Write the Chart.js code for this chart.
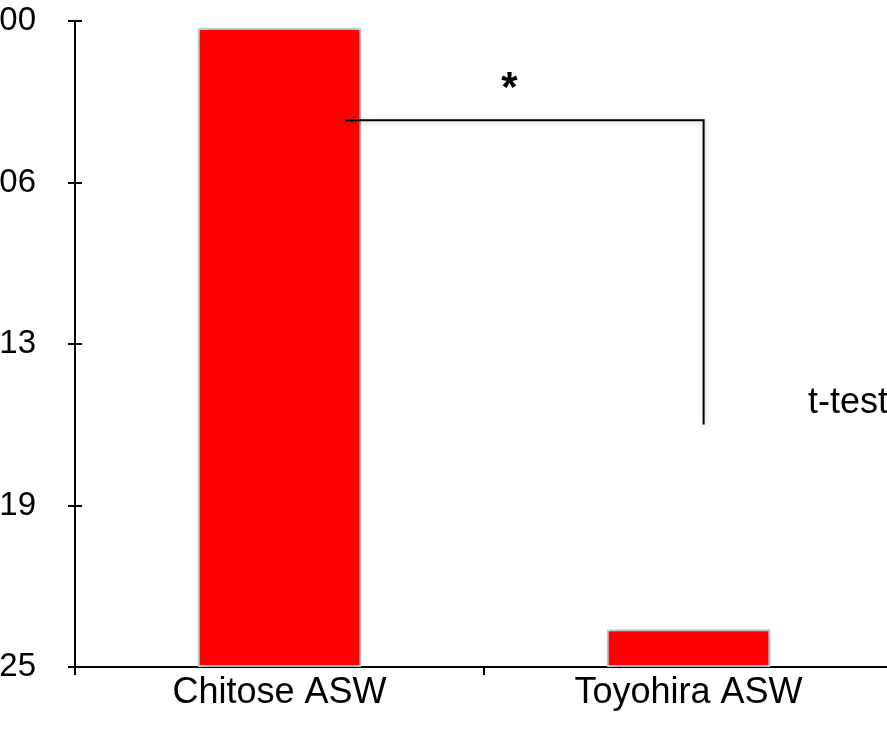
<!DOCTYPE html>
<html>
<head>
<meta charset="utf-8">
<script src="https://cdn.jsdelivr.net/npm/chart.js@4/dist/chart.umd.min.js"></script>
<style>
  html, body { margin: 0; padding: 0; overflow: hidden; background: #fff; }
  #wrap { position: relative; width: 900px; height: 733px; }
</style>
</head>
<body>
<div id="wrap"><canvas id="c" width="900" height="733"></canvas></div>
<script>
// Sites and measured values (log scale)
const categories = ['Chitose ASW', 'Toyohira ASW'];
const values = [0.54, 2.9e-24];

// Y axis: ticks as powers of ten
const tickExponents = [-25, -18.75, -12.5, -6.25, 0];
const tickLabels = ['1.E-25', '1.E-19', '1.E-13', '1.E-06', '1.E+00'];

// Significance bracket (x in category units, y in data units)
const bracketX = [0.161, 1.037];
const bracketY = [Math.pow(10, -3.84), Math.pow(10, -15.62)];
const starPos = [0.562, Math.pow(10, -2.65)];
const testLabel = 't-test';
const testPos = [1.292, Math.pow(10, -14.77)];

const FONT = "'Liberation Sans', Arial, sans-serif";

const shadowPlugin = {
  id: 'barShadow',
  beforeDatasetsDraw(chart) {
    const ctx = chart.ctx;
    ctx.save();
    ctx.shadowColor = 'rgba(0,0,0,0.3)';
    ctx.shadowBlur = 10;
    ctx.shadowOffsetX = 2;
    ctx.shadowOffsetY = 2;
  },
  afterDatasetsDraw(chart) {
    chart.ctx.restore();
  }
};

const decorPlugin = {
  id: 'decor',
  afterDraw(chart) {
    const ctx = chart.ctx;
    const xs = chart.scales.x, ys = chart.scales.y;
    const left = chart.chartArea.left;

    // y ticks crossing the axis
    ctx.save();
    ctx.strokeStyle = '#000';
    ctx.lineWidth = 2;
    ys.ticks.forEach((t, i) => {
      const py = Math.round(ys.getPixelForTick(i));
      ctx.beginPath();
      ctx.moveTo(left - 7, py);
      ctx.lineTo(left + 7, py);
      ctx.stroke();
    });
    ctx.restore();

    // significance bracket
    const x0 = xs.getPixelForValue(bracketX[0]);
    const x1 = xs.getPixelForValue(bracketX[1]);
    const y0 = ys.getPixelForValue(bracketY[0]);
    const y1 = ys.getPixelForValue(bracketY[1]);
    ctx.save();
    ctx.shadowColor = 'rgba(0,0,0,0.25)';
    ctx.shadowBlur = 6;
    ctx.shadowOffsetX = 1;
    ctx.shadowOffsetY = 1;
    ctx.strokeStyle = '#000';
    ctx.lineWidth = 2;
    ctx.beginPath();
    ctx.moveTo(x0, y0);
    ctx.lineTo(x1, y0);
    ctx.lineTo(x1, y1);
    ctx.stroke();
    ctx.restore();

    // asterisk and test name
    ctx.save();
    ctx.fillStyle = '#000';
    ctx.textAlign = 'center';
    ctx.textBaseline = 'middle';
    ctx.font = 'bold 42px ' + FONT;
    ctx.fillText('*', xs.getPixelForValue(starPos[0]), ys.getPixelForValue(starPos[1]));
    ctx.textAlign = 'left';
    ctx.font = '36px ' + FONT;
    ctx.fillText(testLabel, xs.getPixelForValue(testPos[0]), ys.getPixelForValue(testPos[1]));
    ctx.restore();
  }
};

new Chart(document.getElementById('c'), {
  type: 'bar',
  data: {
    labels: categories,
    datasets: [{
      data: values,
      backgroundColor: '#ff0000',
      borderColor: '#b7dde6',
      borderWidth: 2,
      borderSkipped: false,
      barPercentage: 0.4,
      categoryPercentage: 1.0
    }]
  },
  options: {
    responsive: false,
    animation: false,
    devicePixelRatio: 1,
    layout: { padding: { top: 21, right: 7, left: 0, bottom: 0 } },
    plugins: { legend: { display: false }, tooltip: { enabled: false } },
    scales: {
      x: {
        grid: { drawOnChartArea: false, color: '#000', lineWidth: 2, tickLength: 8, offset: true },
        border: { color: '#000', width: 2 },
        ticks: { color: '#000', font: { family: FONT, size: 36 }, padding: -4 },
        afterFit(s) { s.height = 66; s.paddingLeft = 0; s.paddingRight = 0; }
      },
      y: {
        type: 'logarithmic',
        min: 1e-25,
        max: 1,
        afterBuildTicks(s) { s.ticks = tickExponents.map(e => ({ value: Math.pow(10, e) })); },
        afterFit(s) { s.width = 75; s.paddingTop = 0; s.paddingBottom = 0; },
        grid: { drawOnChartArea: false, drawTicks: false },
        border: { color: '#000', width: 2 },
        ticks: {
          color: '#000',
          font: { family: FONT, size: 33 },
          padding: 39,
          callback: (v, i) => tickLabels[i]
        }
      }
    }
  },
  plugins: [shadowPlugin, decorPlugin]
});
</script>
</body>
</html>
